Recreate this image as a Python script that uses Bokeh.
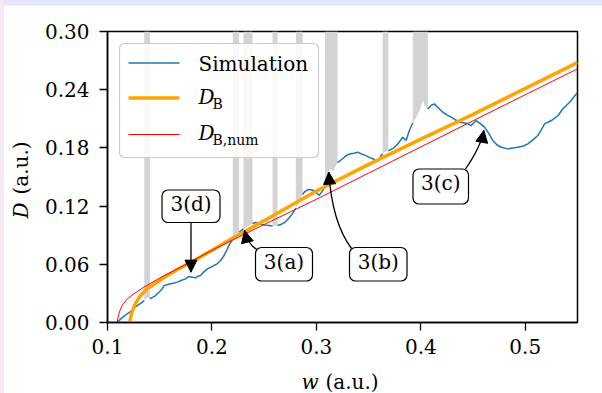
import numpy as np
from bokeh.plotting import figure
from bokeh.models import (Range1d, FixedTicker, NumeralTickFormatter, BoxAnnotation,
                          Label, Arrow, NormalHead)
from bokeh.core.properties import value
from bokeh.layouts import column
from bokeh.embed import file_html
from bokeh.resources import INLINE

# ---------------- data ----------------
sim_w = [0.1093, 0.1130, 0.1189, 0.1230, 0.1285, 0.1320, 0.1352, 0.1380, 0.1406, 0.1435,
         0.1460, 0.1500, 0.1525, 0.1540, 0.1570, 0.1604, 0.1640, 0.1668, 0.1710, 0.1748,
         0.1775, 0.1800, 0.1844, 0.1870, 0.1892, 0.1920, 0.1956, 0.1990, 0.2020, 0.2050,
         0.2084, 0.2110, 0.2140, 0.2165, 0.2200, 0.2230, 0.2260, 0.2280, 0.2302, 0.2340,
         0.2388, 0.2420, 0.2460, 0.2500, 0.2550, 0.2580, 0.2605, 0.2628, 0.2660, 0.2700,
         0.2740, 0.2770, 0.2803, 0.2830, 0.2868, 0.2890, 0.2918, 0.2950, 0.2980, 0.3027,
         0.3060, 0.3082, 0.3100, 0.3120, 0.3140, 0.3160, 0.3180, 0.3203, 0.3230, 0.3267,
         0.3300, 0.3330, 0.3360, 0.3395, 0.3427, 0.3475, 0.3510, 0.3540, 0.3587, 0.3619,
         0.3635, 0.3660, 0.3689, 0.3740, 0.3779, 0.3827, 0.3859, 0.3890, 0.3923, 0.3960,
         0.3990, 0.4010, 0.4020, 0.4035, 0.4067, 0.4100, 0.4130, 0.4160, 0.4210, 0.4250,
         0.4290, 0.4330, 0.4370, 0.4410, 0.4450, 0.4480, 0.4530, 0.4570, 0.4610, 0.4650,
         0.4690, 0.4730, 0.4770, 0.4834, 0.4880, 0.4930, 0.4980, 0.5025, 0.5070, 0.5120,
         0.5150, 0.5185, 0.5250, 0.5314, 0.5360, 0.5425, 0.5490, 0.5500]
sim_D = [0.0000, 0.0040, 0.0090, 0.0120, 0.0175, 0.0200, 0.0225, 0.0260, 0.0245, 0.0262,
         0.0278, 0.0320, 0.0347, 0.0380, 0.0390, 0.0400, 0.0408, 0.0416, 0.0435, 0.0450,
         0.0474, 0.0470, 0.0460, 0.0480, 0.0485, 0.0520, 0.0553, 0.0570, 0.0588, 0.0605,
         0.0639, 0.0680, 0.0740, 0.0800, 0.0860, 0.0900, 0.0930, 0.0948, 0.0965, 0.0990,
         0.1020, 0.1030, 0.1017, 0.1005, 0.1000, 0.0995, 0.1000, 0.1000, 0.1010, 0.1034,
         0.1080, 0.1120, 0.1180, 0.1240, 0.1320, 0.1350, 0.1370, 0.1365, 0.1360, 0.1310,
         0.1360, 0.1400, 0.1480, 0.1560, 0.1580, 0.1560, 0.1600, 0.1650, 0.1670, 0.1704,
         0.1730, 0.1740, 0.1745, 0.1756, 0.1740, 0.1720, 0.1700, 0.1688, 0.1663, 0.1720,
         0.1740, 0.1760, 0.1770, 0.1800, 0.1840, 0.1910, 0.1876, 0.1980, 0.2060, 0.2120,
         0.2190, 0.2260, 0.2290, 0.2240, 0.2200, 0.2240, 0.2254, 0.2220, 0.2168, 0.2140,
         0.2117, 0.2090, 0.2065, 0.2060, 0.2048, 0.2030, 0.2082, 0.2050, 0.2014, 0.1950,
         0.1876, 0.1830, 0.1807, 0.1790, 0.1800, 0.1807, 0.1820, 0.1842, 0.1880, 0.1928,
         0.1980, 0.2048, 0.2082, 0.2134, 0.2203, 0.2270, 0.2358, 0.2370]

# intervals shaded grey (simulation line not drawn there)
gap_start = [0.1352, 0.2200, 0.2302, 0.2580, 0.2803, 0.3082, 0.3635, 0.3923]
gap_end = [0.1406, 0.2260, 0.2388, 0.2628, 0.2868, 0.3203, 0.3689, 0.4067]

db_w = [0.1214, 0.1220, 0.1230, 0.1245, 0.1270, 0.1310, 0.1380, 0.1480, 0.1580, 0.1700,
        0.1830, 0.2000, 0.2200, 0.2500, 0.3000, 0.3500, 0.4000, 0.4500, 0.5000, 0.5500]
db_D = [0.0000, 0.0050, 0.0090, 0.0140, 0.0200, 0.0270, 0.0350, 0.0420, 0.0490, 0.0565,
        0.0640, 0.0745, 0.0870, 0.1050, 0.1355, 0.1630, 0.1890, 0.2145, 0.2413, 0.2680]

dbnum_w = [0.1093, 0.1100, 0.1109, 0.1125, 0.1141, 0.1189, 0.1253, 0.1348, 0.1477, 0.1636,
           0.1796, 0.2000, 0.2500, 0.3000, 0.3500, 0.4000, 0.4500, 0.5000, 0.5500]
dbnum_D = [0.0000, 0.0050, 0.0090, 0.0140, 0.0175, 0.0244, 0.0296, 0.0364, 0.0445, 0.0535,
           0.0625, 0.0745, 0.1010, 0.1270, 0.1540, 0.1810, 0.2080, 0.2348, 0.2615]

ann_text = ["3(a)", "3(b)", "3(c)", "3(d)"]
ann_tip_w = [0.2312, 0.3119, 0.4603, 0.1799]
ann_tip_D = [0.0948, 0.1550, 0.1980, 0.0519]

x_ticks = [0.1, 0.2, 0.3, 0.4, 0.5]
y_ticks = [0.00, 0.06, 0.12, 0.18, 0.24, 0.30]

series_names = ["Simulation", "D", "D"]
series_subs = ["", "B", "B,num"]
series_colors = ["#1f77b4", "#ffa500", "#ff0000"]
series_widths = [1.5, 3.5, 1.0]

# ---------------- layout helpers (page pixels -> data units) ----------------
X0, X1, Y0, Y1 = 0.1, 0.55, 0.0, 0.30
FL, FR, FT, FB = 107, 577, 31, 322


def dx(px):
    return X0 + (px - FL) * (X1 - X0) / (FR - FL)


def dy(py):
    return Y0 + (FB - py) * (Y1 - Y0) / (FB - FT)


FONT = "DejaVu Serif"

p = figure(width=599, height=388, x_range=Range1d(X0, X1), y_range=Range1d(Y0, Y1),
           output_backend="svg", toolbar_location=None,
           min_border_left=104, min_border_right=25, min_border_top=26, min_border_bottom=71,
           background_fill_color="white", border_fill_color="white",
           outline_line_color="black", outline_line_width=1.5)
p.margin = (5, 0, 0, 3)
p.grid.visible = False

for ax in (p.xaxis[0], p.yaxis[0]):
    ax.axis_line_color = "black"
    ax.axis_line_width = 1.5
    ax.major_tick_line_color = "black"
    ax.major_tick_line_width = 1.3
    ax.major_tick_out = 8
    ax.major_tick_in = 0
    ax.minor_tick_line_color = None
    ax.major_label_text_font = FONT
    ax.major_label_text_font_size = "20px"
    ax.major_label_text_color = "black"

p.xaxis.ticker = FixedTicker(ticks=x_ticks)
p.yaxis.ticker = FixedTicker(ticks=y_ticks)
p.xaxis.formatter = NumeralTickFormatter(format="0.0")
p.yaxis.formatter = NumeralTickFormatter(format="0.00")
p.xaxis.major_label_standoff = 8
p.yaxis.major_label_standoff = 10

# ---------------- grey shaded intervals + simulation ----------------
w_arr = np.array(sim_w)
D_arr = np.array(sim_D)
line_D = D_arr.copy()
for s, e in zip(gap_start, gap_end):
    inside = (w_arr > s + 1e-9) & (w_arr < e - 1e-9)
    line_D[inside] = np.nan
    m = (w_arr >= s - 1e-9) & (w_arr <= e + 1e-9)
    p.varea(x=w_arr[m], y1=D_arr[m], y2=Y1, fill_color="#d3d3d3")

p.line(w_arr, line_D, line_color=series_colors[0], line_width=series_widths[0])
p.line(db_w, db_D, line_color=series_colors[1], line_width=series_widths[1])
p.line(dbnum_w, dbnum_D, line_color=series_colors[2], line_width=series_widths[2])

# ---------------- legend (drawn by hand for italic / subscript labels) ----------------
p.add_layout(BoxAnnotation(left=dx(119), right=dx(318), top=dy(43), bottom=dy(157),
                           fill_color="white", fill_alpha=0.85, line_color="#cccccc",
                           line_alpha=1, line_width=1.2, border_radius=5))
row_y = [62.5, 97.5, 134]
text_mid_y = [63, 96.5, 132.5]
for i in range(3):
    p.line([dx(128), dx(179)], [dy(row_y[i]), dy(row_y[i])], line_color=series_colors[i],
           line_width=series_widths[i], level="overlay")
    p.add_layout(Label(x=dx(198), y=dy(text_mid_y[i]), text=series_names[i], text_font=FONT,
                       text_font_size="20px", text_color="black",
                       text_font_style="normal" if i == 0 else "italic",
                       text_align="left", text_baseline="middle"))
    if series_subs[i]:
        p.add_layout(Label(x=dx(212), y=dy(text_mid_y[i] + 6.5), text=series_subs[i],
                           text_font=FONT, text_font_size="14px", text_color="black",
                           text_align="left", text_baseline="middle"))

# ---------------- annotations ----------------
# box (left, right, top, bottom), arrow start and control point, in page pixels
ann_box = [(255, 312, 247, 280.5), (349, 406.5, 247, 280.5), (412.5, 468, 168.5, 203.5),
           (161.5, 219.5, 189.5, 222)]
ann_start = [(256.5, 249), (351, 248), (465, 168.5), (190.5, 222)]
ann_ctrl = [(247.5, 244), (331.5, 222), (480.5, 146), (190.5, 246)]
for i in range(4):
    l, r, t, b = ann_box[i]
    ax0, ay0 = ann_start[i]
    cx, cy = ann_ctrl[i]
    p.quadratic(x0=[dx(ax0)], y0=[dy(ay0)], x1=[ann_tip_w[i]], y1=[ann_tip_D[i]],
                cx=[dx(cx)], cy=[dy(cy)], line_color="black", line_width=1.3)
    p.add_layout(Arrow(x_start=dx(cx), y_start=dy(cy), x_end=ann_tip_w[i], y_end=ann_tip_D[i],
                       line_alpha=0,
                       end=NormalHead(size=12, fill_color="black", line_color="black",
                                      line_width=1)))
    p.add_layout(BoxAnnotation(left=dx(l), right=dx(r), top=dy(t), bottom=dy(b),
                               fill_color="white", fill_alpha=1, line_color="black",
                               line_alpha=1, line_width=1.2, border_radius=6))
    p.add_layout(Label(x=dx((l + r) / 2), y=dy(t + 14), text=ann_text[i], text_font=FONT,
                       text_font_size="20px", text_color="black",
                       text_align="center", text_baseline="middle"))

# ---------------- axis labels (text glyphs at overlay level, outside the frame) ----------------
axis_label_specs = [
    # text, x, y (page px), italic, angle
    ("w", 301, 381.5, True, 0.0),
    ("(a.u.)", 325, 381.5, False, 0.0),
    ("D", 20, 218, True, np.pi / 2),
    ("(a.u.)", 20, 194, False, np.pi / 2),
]
for txt, px, py, ital, ang in axis_label_specs:
    p.text(x=[dx(px)], y=[dy(py)], text=[txt], angle=ang, level="overlay",
           text_font=value(FONT), text_font_size=value("20px"),
           text_font_style="italic" if ital else "normal",
           text_align="left", text_baseline="middle", text_color="black")

layout = column(p, styles={"background": "linear-gradient(90deg, #f4e8f2 0px, #f4e8f2 3px, #e6e6fa 3px)"})

open("out.html", "w").write(file_html(layout, INLINE))
